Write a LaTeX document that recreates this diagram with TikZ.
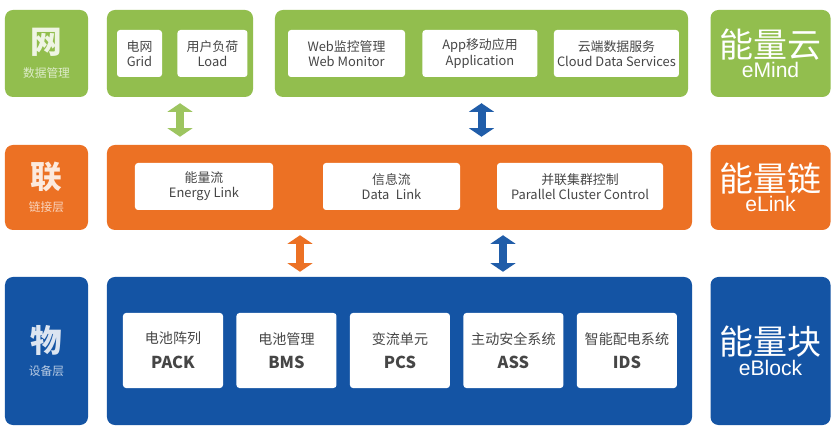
\documentclass[tikz,border=0pt]{standalone}
\usepackage{fontspec}
\setmainfont{Noto Sans CJK SC}
\newfontfamily\enfont{Liberation Sans}
\usepackage{xcolor}
\usetikzlibrary{arrows.meta,positioning,calc}
\definecolor{cloudgreen}{RGB}{146,190,78}
\definecolor{linkorange}{RGB}{236,113,36}
\definecolor{blockblue}{RGB}{20,84,164}
\definecolor{itemgray}{RGB}{70,70,70}

\begin{document}
\begin{tikzpicture}[x=0.03cm, y=-0.03cm,
  wh/.style 2 args={minimum width=#1*0.3mm, minimum height=#2*0.3mm},
  layer/.style={rounded corners=2.4mm, inner sep=0pt, align=center},
  tag/.style={layer, text=white!85!#1, fill=#1, wh={83}{87}},
  brand/.style={layer, text=white, fill=#1, wh={120}{87}},
  item/.style={fill=white, rounded corners=0.9mm, inner sep=0pt, align=center, text=itemgray,
    font=\fontsize{11}{13}\selectfont},
  dev/.style={item, wh={100}{75}, font=\fontsize{12}{18}\selectfont},
  flow/.style={line width=2.4mm, {Triangle[width=7.5mm,length=2.6mm]}-{Triangle[width=7.5mm,length=2.6mm]}}]
  \useasboundingbox[fill=white] (0,0) rectangle (838,432);

  \node[tag=cloudgreen] (wang) at (46.5,53.5)
    {\bfseries\fontsize{27}{27}\selectfont 网\\[8pt]{\fontsize{10}{10}\selectfont\color{white!70!cloudgreen}数据管理}};
  \node[layer, fill=cloudgreen, wh={146}{87}] (gridgrp) at (180,53.5) {};
  \node[layer, fill=cloudgreen, wh={413}{87}] (appgrp) at (481.5,53.5) {};
  \node[brand=cloudgreen] (emind) at (770.5,53.5)
    {\fontsize{29}{29}\selectfont 能量云\\[1pt]{\enfont\fontsize{18}{18}\selectfont eMind}};
  \node[item, wh={45}{47}] (grid) at (139.5,53.5) {电网\\Grid};
  \node[item, wh={70}{47}, right=0.45cm of grid] (load) {用户负荷\\Load};
  \node[item, wh={117}{47}] (web) at (346.5,53.5) {Web监控管理\\Web Monitor};
  \node[item, wh={115}{47}, right=0.51cm of web] (app) {App移动应用\\Application};
  \node[item, wh={125}{47}, right=0.48cm of app] (cloud) {云端数据服务\\Cloud Data Services};

  \node[tag=linkorange, wh={83}{85}] (lian) at (46.5,187.5)
    {\bfseries\fontsize{27}{27}\selectfont 联\\[8pt]{\fontsize{10}{10}\selectfont\color{white!70!linkorange}链接层}};
  \node[layer, fill=linkorange, wh={585}{85}] (linkgrp) at (399.5,187.5) {};
  \node[brand=linkorange, wh={120}{85}] (elink) at (770.5,187.5)
    {\fontsize{29}{29}\selectfont 能量链\\[1pt]{\enfont\fontsize{18}{18}\selectfont eLink}};
  \node[item, wh={138}{47}] (energy) at (204,186.5) {能量流\\Energy Link};
  \node[item, wh={137}{47}] (data) at (391.5,186.5) {信息流\\Data\enspace Link};
  \node[item, wh={166}{47}] (cluster) at (580,186.5) {并联集群控制\\Parallel Cluster Control};

  \node[tag=blockblue, wh={83}{148}] (wu) at (46.5,351)
    {\bfseries\fontsize{27}{27}\selectfont 物\\[8pt]{\fontsize{10}{10}\selectfont\color{white!70!blockblue}设备层}};
  \node[layer, fill=blockblue, wh={585}{148}] (devgrp) at (399.5,351) {};
  \node[brand=blockblue, wh={120}{148}] (eblock) at (770.5,351)
    {\fontsize{29}{29}\selectfont 能量块\\[1pt]{\enfont\fontsize{18}{18}\selectfont eBlock}};
  \node[dev] (pack) at (173,350.5) {电池阵列\\[3pt]{\bfseries\fontsize{14}{14}\selectfont PACK}};
  \node[dev, right=0.39cm of pack] (bms) {电池管理\\[3pt]{\bfseries\fontsize{14}{14}\selectfont BMS}};
  \node[dev, right=0.39cm of bms] (pcs) {变流单元\\[3pt]{\bfseries\fontsize{14}{14}\selectfont PCS}};
  \node[dev, right=0.39cm of pcs] (ass) {主动安全系统\\[3pt]{\bfseries\fontsize{14}{14}\selectfont ASS}};
  \node[dev, right=0.39cm of ass] (ids) {智能配电系统\\[3pt]{\bfseries\fontsize{14}{14}\selectfont IDS}};

  \draw[flow, draw=cloudgreen!90!white, shorten <=1.8mm, shorten >=2.4mm]
    (gridgrp.south) -- (gridgrp.south |- linkgrp.north);
  \draw[flow, draw=blockblue!95!white, shorten <=1.8mm, shorten >=2.4mm]
    (appgrp.south) -- (appgrp.south |- linkgrp.north);
  \draw[flow, draw=linkorange, shorten <=1.5mm, shorten >=1.5mm]
    (300,0 |- linkgrp.south) -- (300,0 |- devgrp.north);
  \draw[flow, draw=blockblue!95!white, shorten <=1.5mm, shorten >=1.5mm]
    (503,0 |- linkgrp.south) -- (503,0 |- devgrp.north);
\end{tikzpicture}
\end{document}
